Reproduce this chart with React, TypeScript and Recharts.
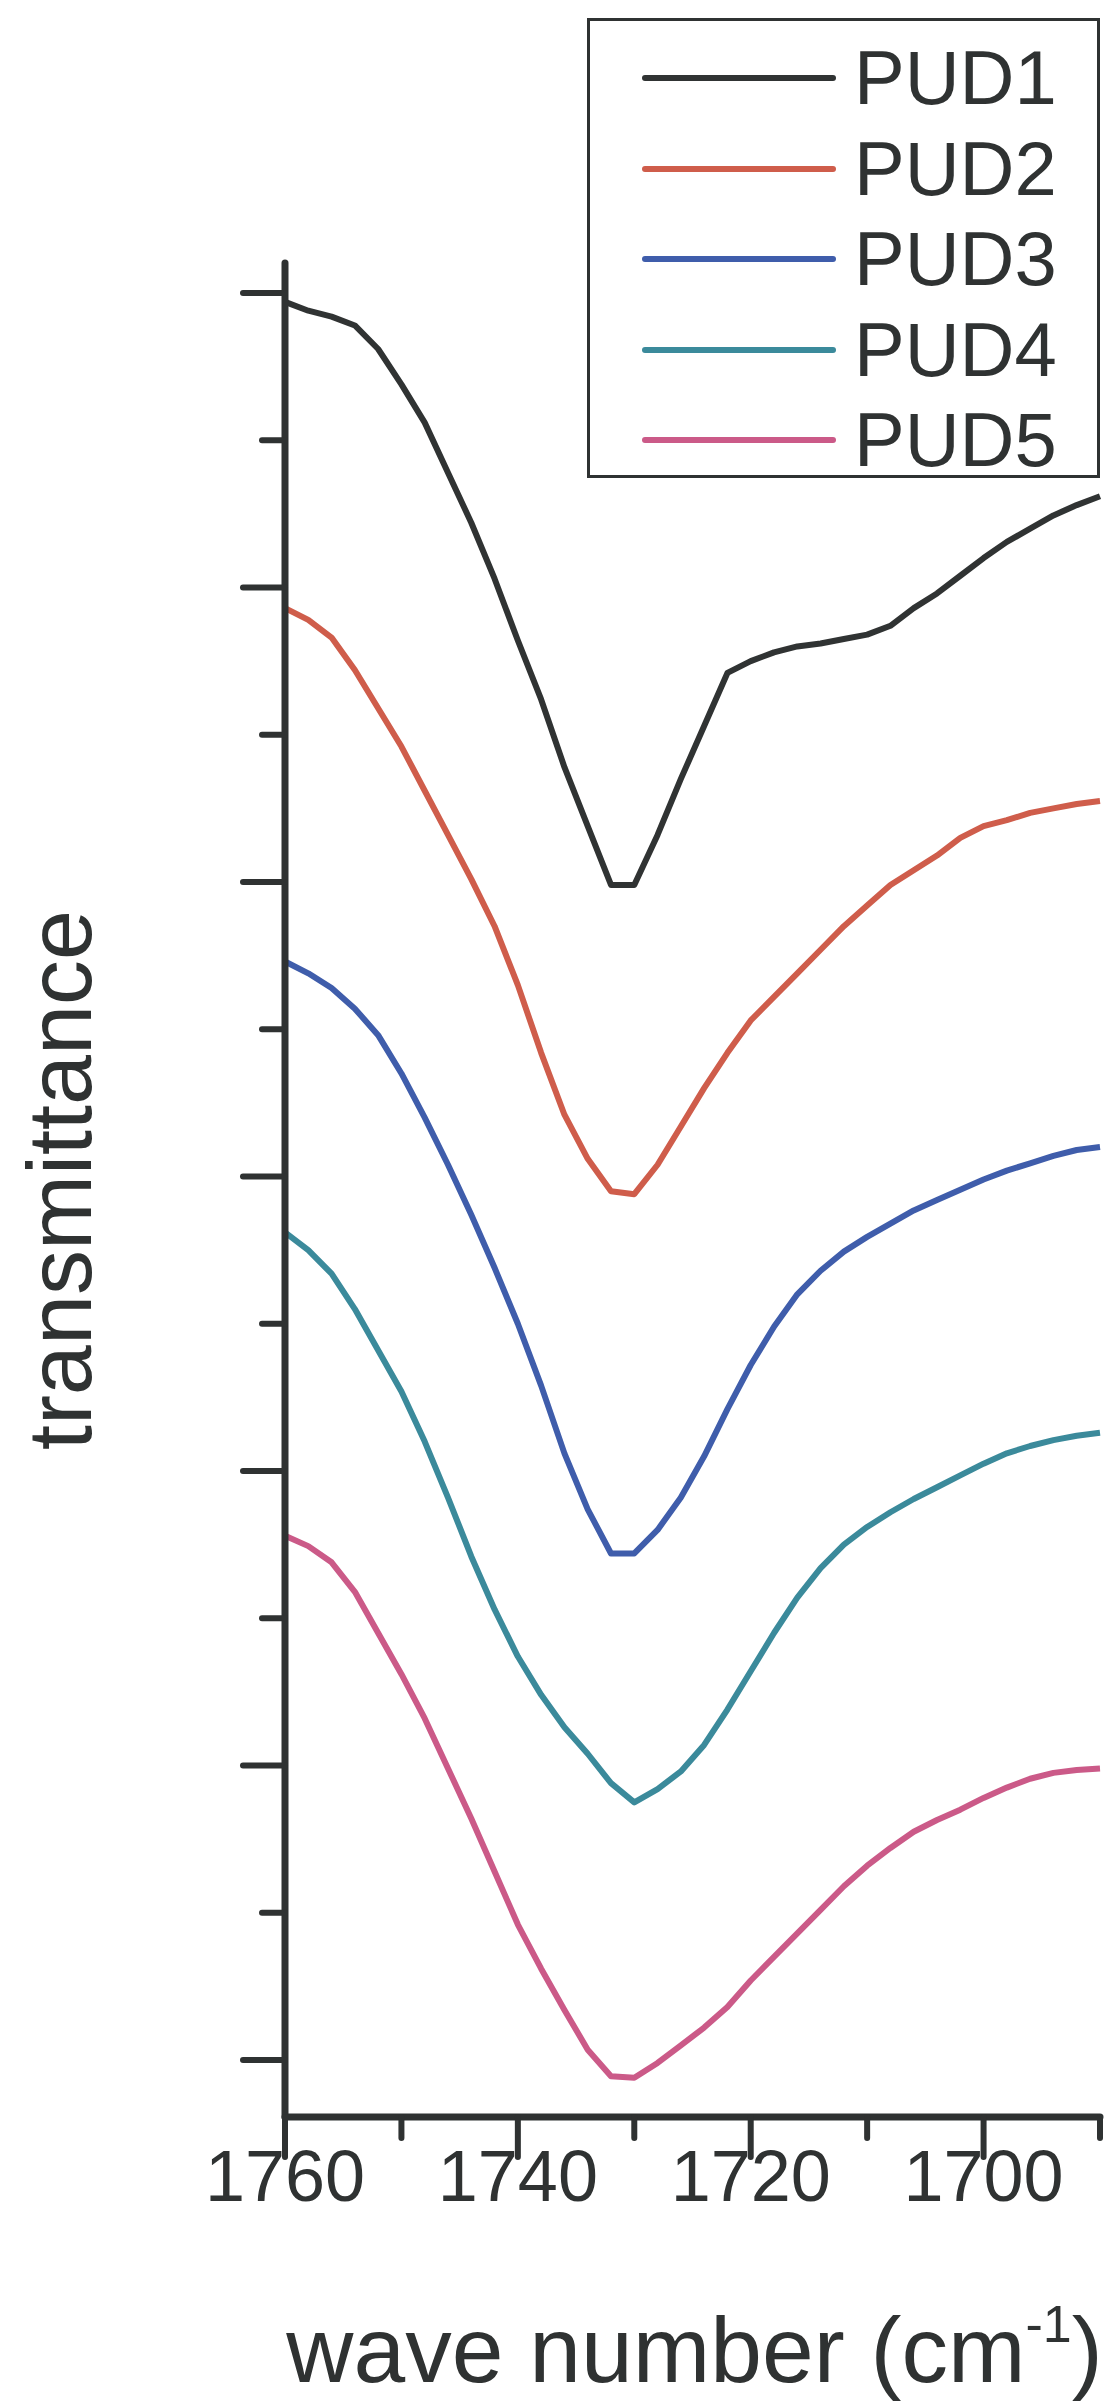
import { LineChart, Line, XAxis, YAxis, Legend } from "recharts"

// wave numbers (cm-1), sampled every 2 cm-1 from 1760 down to 1690
const WAVENUMBERS = [
  1760, 1758, 1756, 1754, 1752, 1750, 1748, 1746, 1744, 1742, 1740, 1738,
  1736, 1734, 1732, 1730, 1728, 1726, 1724, 1722, 1720, 1718, 1716, 1714,
  1712, 1710, 1708, 1706, 1704, 1702, 1700, 1698, 1696, 1694, 1692, 1690,
]

// transmittance, offset per sample (one major tick = 1 unit)
const PUD1 = [
  5.97, 5.94, 5.92, 5.89, 5.81, 5.69, 5.56, 5.39, 5.22, 5.03, 4.82, 4.62,
  4.39, 4.19, 3.99, 3.99, 4.16, 4.35, 4.53, 4.71, 4.75, 4.78, 4.8, 4.81,
  4.825, 4.84, 4.87, 4.93, 4.98, 5.04, 5.1, 5.155, 5.2, 5.245, 5.28, 5.31,
]
const PUD2 = [
  4.93, 4.89, 4.83, 4.72, 4.59, 4.46, 4.31, 4.16, 4.01, 3.85, 3.65, 3.42,
  3.21, 3.06, 2.95, 2.94, 3.04, 3.17, 3.3, 3.42, 3.53, 3.61, 3.69, 3.77,
  3.85, 3.92, 3.99, 4.04, 4.09, 4.15, 4.19, 4.21, 4.235, 4.25, 4.265, 4.275,
]
const PUD3 = [
  3.73, 3.69, 3.64, 3.57, 3.48, 3.35, 3.2, 3.04, 2.87, 2.69, 2.5, 2.29,
  2.06, 1.87, 1.72, 1.72, 1.8, 1.91, 2.05, 2.21, 2.36, 2.49, 2.6, 2.68,
  2.745, 2.795, 2.84, 2.885, 2.92, 2.955, 2.99, 3.02, 3.045, 3.07, 3.09, 3.1,
]
const PUD4 = [
  2.81, 2.75, 2.67, 2.55, 2.41, 2.27, 2.1, 1.91, 1.71, 1.53, 1.37, 1.24,
  1.13, 1.04, 0.94, 0.875, 0.92, 0.98, 1.07, 1.19, 1.32, 1.45, 1.57, 1.67,
  1.75, 1.81, 1.86, 1.905, 1.945, 1.985, 2.025, 2.06, 2.085, 2.105, 2.12, 2.13,
]
const PUD5 = [
  1.78, 1.745, 1.69, 1.59, 1.45, 1.31, 1.16, 0.99, 0.82, 0.64, 0.46, 0.31,
  0.17, 0.035, -0.055, -0.06, -0.01, 0.05, 0.11, 0.18, 0.27, 0.35, 0.43, 0.51,
  0.59, 0.66, 0.72, 0.775, 0.815, 0.85, 0.89, 0.925, 0.955, 0.975, 0.985, 0.99,
]

const X_TICKS = [1760, 1750, 1740, 1730, 1720, 1710, 1700, 1690]
const Y_TICKS = [0, 0.5, 1, 1.5, 2, 2.5, 3, 3.5, 4, 4.5, 5, 5.5, 6]

const SERIES = [
  { key: "pud1", name: "PUD1", values: PUD1, color: "#303333" },
  { key: "pud2", name: "PUD2", values: PUD2, color: "#cf5d4b" },
  { key: "pud3", name: "PUD3", values: PUD3, color: "#3f5dab" },
  { key: "pud4", name: "PUD4", values: PUD4, color: "#3b8a9b" },
  { key: "pud5", name: "PUD5", values: PUD5, color: "#cb5a88" },
]

const INK = "#2f3232"
const FONT = "'Liberation Sans', Arial, sans-serif"

const rows = WAVENUMBERS.map((wn, i) => {
  const row: Record<string, number> = { wn }
  SERIES.forEach((s) => (row[s.key] = s.values[i]))
  return row
})

const XTick = (props: any) => {
  const { x, y, payload } = props
  const major = payload.value % 20 === 0
  return (
    <g>
      <line x1={x} x2={x} y1={y} y2={y + (major ? 40 : 21)} stroke={INK} strokeWidth={6} strokeLinecap="round" />
      {major && (
        <text x={x} y={y + 84} textAnchor="middle" fontSize={72} fill={INK} fontFamily={FONT}>
          {payload.value}
        </text>
      )}
    </g>
  )
}

const YTick = (props: any) => {
  const { x, y, payload } = props
  const major = Number.isInteger(payload.value)
  return <line x1={x} x2={x - (major ? 42 : 23)} y1={y} y2={y} stroke={INK} strokeWidth={6} strokeLinecap="round" />
}

// axis title with the superscript -1 on cm
const XTitle = ({ viewBox }: any) => (
  <text x={viewBox.x + viewBox.width / 2 + 2} y={viewBox.y + 265} textAnchor="middle" fontSize={93} fill={INK} fontFamily={FONT}>
    wave number (cm
    <tspan fontSize={52} dy={-40}>-1</tspan>
    <tspan dy={40}>)</tspan>
  </text>
)

const YTitle = ({ viewBox }: any) => {
  const cx = 83
  const cy = viewBox.y + viewBox.height / 2 - 10
  return (
    <text x={cx} y={cy} transform={`rotate(-90, ${cx}, ${cy})`} textAnchor="middle" fontSize={90} fill={INK} fontFamily={FONT}>
      transmittance
    </text>
  )
}

const LegendBox = () => (
  <div
    style={{
      boxSizing: "border-box",
      width: 513,
      height: 460,
      border: `3px solid ${INK}`,
      background: "#fff",
      paddingTop: 12,
    }}
  >
    {SERIES.map((s) => (
      <div key={s.key} style={{ display: "flex", alignItems: "center", height: 90.5 }}>
        <svg width={264} height={20} style={{ flex: "none" }}>
          <line x1={55} x2={243} y1={10} y2={10} stroke={s.color} strokeWidth={6} strokeLinecap="round" />
        </svg>
        <span style={{ fontFamily: FONT, fontSize: 76, color: INK, lineHeight: 1 }}>{s.name}</span>
      </div>
    ))}
  </div>
)

export default function App() {
  return (
    <LineChart width={1112} height={2396} data={rows} margin={{ top: 255, right: 20, bottom: 227, left: 217 }}>
      <XAxis
        type="number"
        dataKey="wn"
        domain={[1690, 1760]}
        reversed
        ticks={X_TICKS}
        interval={0}
        height={60}
        tickSize={0}
        tickMargin={0}
        tickLine={false}
        tick={<XTick />}
        axisLine={{ stroke: INK, strokeWidth: 7, strokeLinecap: "round" }}
        label={<XTitle />}
      />
      <YAxis
        type="number"
        domain={[-0.1935, 6.102]}
        allowDataOverflow
        ticks={Y_TICKS}
        interval={0}
        width={60}
        tickSize={0}
        tickMargin={0}
        tickLine={false}
        tick={<YTick />}
        axisLine={{ stroke: INK, strokeWidth: 7, strokeLinecap: "round" }}
        label={<YTitle />}
      />
      <Legend
        layout="vertical"
        align="center"
        verticalAlign="middle"
        content={<LegendBox />}
        wrapperStyle={{ top: 10, left: 579, width: 513, height: 460 }}
      />
      {SERIES.map((s) => (
        <Line
          key={s.key}
          type="linear"
          dataKey={s.key}
          name={s.name}
          stroke={s.color}
          strokeWidth={6}
          strokeLinejoin="round"
          dot={false}
          activeDot={false}
          isAnimationActive={false}
        />
      ))}
    </LineChart>
  )
}
